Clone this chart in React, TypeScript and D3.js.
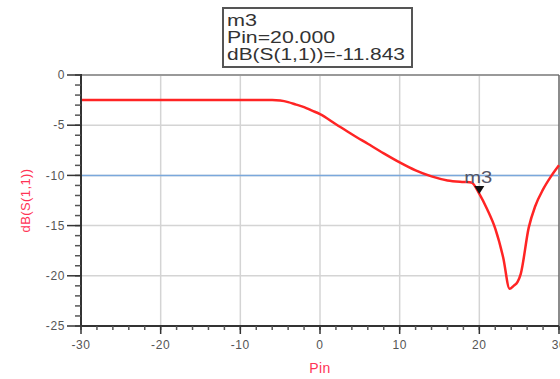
import React from 'react';
import * as d3 from 'd3';

// Pin sweep (dBm) and dB(S(1,1))
const pin = [-30, -20, -10, -6, -5, -4, -3, -2, -1, 0, 2, 4, 6, 8, 10, 12, 14, 16, 18, 19, 20, 21, 22, 23, 23.8, 24.3, 24.8, 25.2, 26.2, 27, 28, 29, 30];
const s11 = [-2.5, -2.5, -2.5, -2.5, -2.55, -2.7, -2.95, -3.2, -3.55, -3.9, -4.9, -5.9, -6.85, -7.8, -8.7, -9.5, -10.1, -10.5, -10.65, -10.7, -11.843, -13.4, -15.3, -18.2, -21.3, -21.0, -20.6, -19.8, -15.2, -13.1, -11.4, -10.1, -9];

const xTicks = [-30, -20, -10, 0, 10, 20, 30];
const yTicks = [0, -5, -10, -15, -20, -25];
const xMinor = d3.range(-30, 30.1, 2);
const yMinor = d3.range(-25, 0.1, 1);

const markerName = 'm3';
const markerPin = 20;
const markerVal = -11.843;
const refLine = -10;

const App: React.FC = () => {
    const width = 560;
    const height = 379;
    const left = 81, right = 559, top = 75, bottom = 326;

    const x = d3.scaleLinear().domain([-30, 30]).range([left, right]);
    const y = d3.scaleLinear().domain([-25, 0]).range([bottom, top]);

    const line = d3.line<number>()
        .x((_, i) => x(pin[i]))
        .y(d => y(d))
        .curve(d3.curveMonotoneX);

    const tickColor = '#555';
    const labelStyle = { fontFamily: 'Arial, "Liberation Sans", sans-serif', fontSize: 12, fill: '#555', letterSpacing: 0.6 };
    const boxFont = { fontFamily: 'Arial, "Liberation Sans", sans-serif', fontSize: 16, fill: '#333', lengthAdjust: 'spacingAndGlyphs' as const };

    const mx = x(markerPin), my = y(markerVal);

    return (
        <svg width={width} height={height} style={{ position: 'absolute', left: 0, top: 0 }}>
            <defs>
                <clipPath id="plot">
                    <rect x={left} y={top} width={right - left + 2} height={bottom - top} />
                </clipPath>
            </defs>
            {/* grid */}
            {xTicks.slice(1, -1).map(t => (
                <line key={'gx' + t} x1={x(t)} x2={x(t)} y1={top} y2={bottom} stroke="#d4d4d4" strokeWidth={1.5} />
            ))}
            {yTicks.slice(1, -1).map(t => (
                <line key={'gy' + t} x1={left} x2={right} y1={y(t)} y2={y(t)} stroke="#d4d4d4" strokeWidth={1.5} />
            ))}
            {/* frame */}
            <line x1={left} x2={right} y1={top} y2={top} stroke="#999" strokeWidth={2} />
            <line x1={right} x2={right} y1={top} y2={bottom} stroke="#666" strokeWidth={1.5} />
            {/* reference line */}
            <line x1={left} x2={right} y1={y(refLine)} y2={y(refLine)} stroke="#7aa8dc" strokeWidth={1.5} />
            {/* curve */}
            <path d={line(s11) || ''} fill="none" stroke="#ff2424" strokeWidth={2.5} clipPath="url(#plot)" />
            {/* axes */}
            <line x1={left} x2={left} y1={top - 1} y2={bottom} stroke="#333" strokeWidth={2} />
            <line x1={left - 1} x2={right} y1={bottom} y2={bottom} stroke="#333" strokeWidth={2} />
            {yMinor.map(t => (
                <line key={'ym' + t} x1={left - 6} x2={left} y1={y(t)} y2={y(t)} stroke={tickColor} strokeWidth={1.5} />
            ))}
            {yTicks.map(t => (
                <g key={'yt' + t}>
                    <line x1={left - 14} x2={left} y1={y(t)} y2={y(t)} stroke="#333" strokeWidth={1.5} />
                    <text x={left - 16} y={y(t)} dy="0.35em" textAnchor="end" {...labelStyle}>{t}</text>
                </g>
            ))}
            {xMinor.map(t => (
                <line key={'xm' + t} x1={x(t)} x2={x(t)} y1={bottom} y2={bottom + 4} stroke={tickColor} strokeWidth={1.5} />
            ))}
            {xTicks.map(t => (
                <g key={'xt' + t}>
                    <line x1={x(t)} x2={x(t)} y1={bottom} y2={bottom + 8} stroke="#333" strokeWidth={1.5} />
                    <text x={x(t)} y={bottom + 19} dy="0.35em" textAnchor="middle" {...labelStyle}>{t}</text>
                </g>
            ))}
            {/* axis titles */}
            <text x={x(0)} y={373} textAnchor="middle" fontFamily="Arial, sans-serif" fontSize={14} fill="#ff3355" letterSpacing={0.5}>Pin</text>
            <text transform={`translate(30,${(top + bottom) / 2}) rotate(-90)`} textAnchor="middle" fontFamily="Arial, sans-serif" fontSize={13} fill="#ff3355" letterSpacing={0.4}>dB(S(1,1))</text>
            {/* marker */}
            <path d={`M${mx - 5},${my - 8} L${mx + 5},${my - 8} L${mx},${my} Z`} fill="#111" />
            <text x={mx - 15} y={my - 11} fontFamily="Arial, sans-serif" fontSize={16} fill="#556" textLength={28} lengthAdjust="spacingAndGlyphs">{markerName}</text>
            {/* marker readout */}
            <rect x={223} y={8} width={189} height={59} fill="#fff" stroke="#555" strokeWidth={2} />
            <text x={227} y={26} {...boxFont} textLength={30}>{markerName}</text>
            <text x={227} y={43} {...boxFont} textLength={108}>{`Pin=${markerPin.toFixed(3)}`}</text>
            <text x={227} y={60} {...boxFont} textLength={178}>{`dB(S(1,1))=${markerVal.toFixed(3)}`}</text>
        </svg>
    );
};

export default App;
